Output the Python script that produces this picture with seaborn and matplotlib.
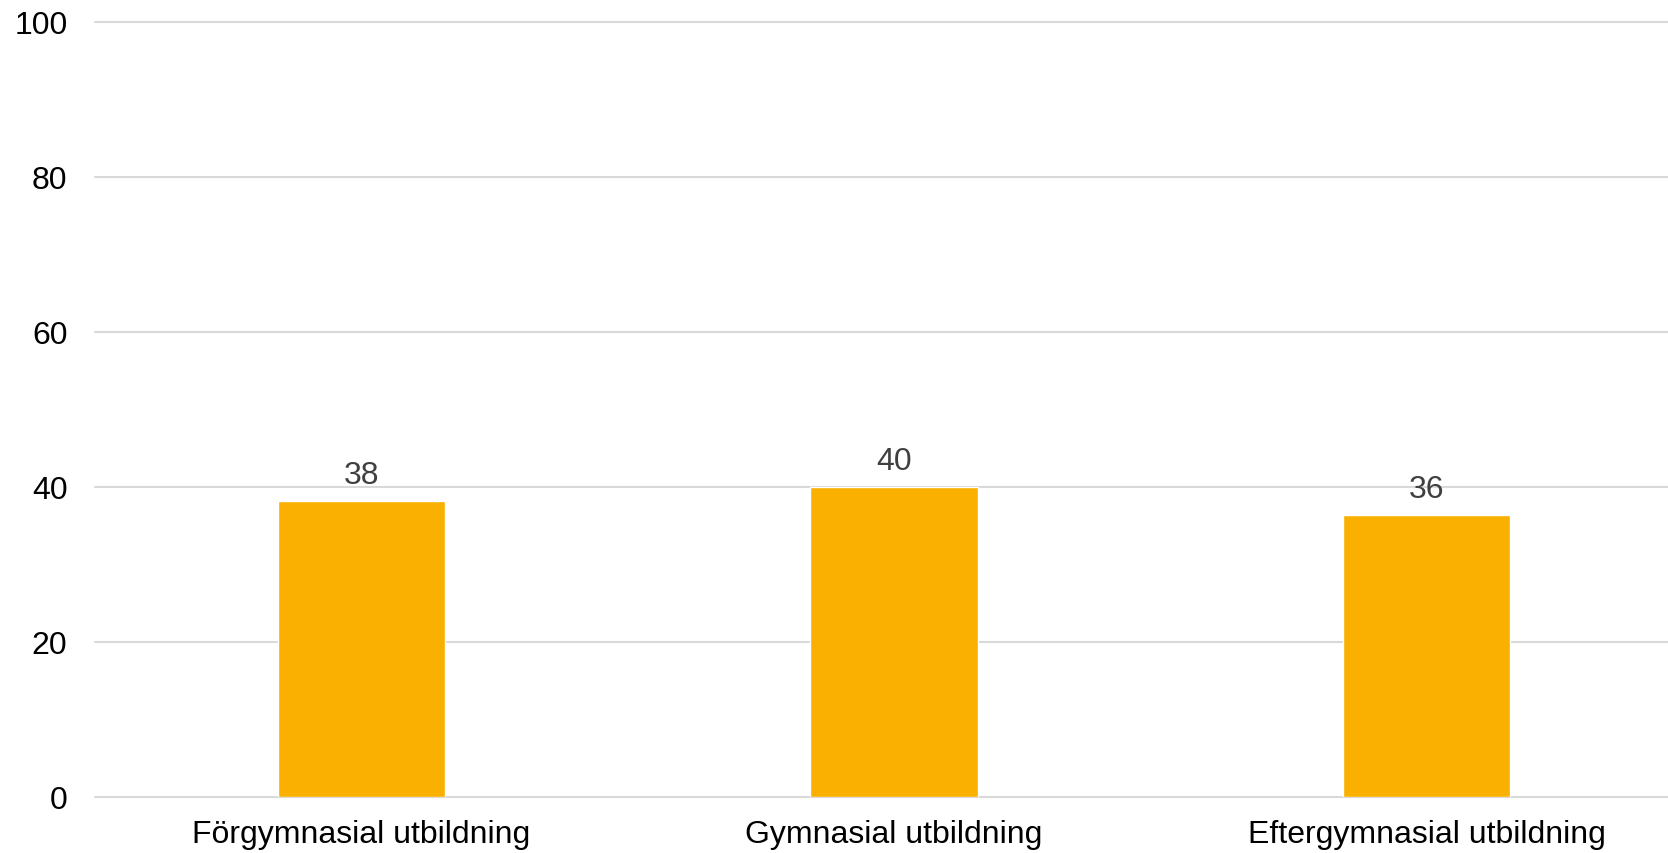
import matplotlib
matplotlib.use('Agg')
import matplotlib.pyplot as plt
import seaborn as sns

# data
kategorier = ['Förgymnasial utbildning', 'Gymnasial utbildning', 'Eftergymnasial utbildning']
andel = [38.2, 40.0, 36.3]
y_ticks = [0, 20, 40, 60, 80, 100]

sns.set_style('white')
plt.rcParams['font.family'] = ['Liberation Sans', 'DejaVu Sans']

fig = plt.figure(figsize=(16.68, 8.54), dpi=100)
ax = fig.add_axes([0.0571, 0.0659, 0.9577, 0.9075])

sns.barplot(x=kategorier, y=andel, color='#F9B000', saturation=1, width=0.314, ax=ax)

ax.set_ylim(0, 100)
ax.set_yticks(y_ticks)
ax.yaxis.grid(True, color='#d9d9d9', lw=1.5)
ax.set_axisbelow(True)
for line in ax.get_ygridlines():
    line.set_clip_on(False)
sns.despine(ax=ax, left=True, bottom=True)

ax.tick_params(axis='y', length=0, pad=20, labelsize=23, labelcolor='black')
ax.tick_params(axis='x', length=0, pad=16, labelsize=23, labelcolor='black')
ax.set_xlabel('')
ax.set_ylabel('')

ax.bar_label(ax.containers[0], fmt='%.0f', padding=8, fontsize=23, color='#404040')

fig.savefig('out.png', dpi=100)
